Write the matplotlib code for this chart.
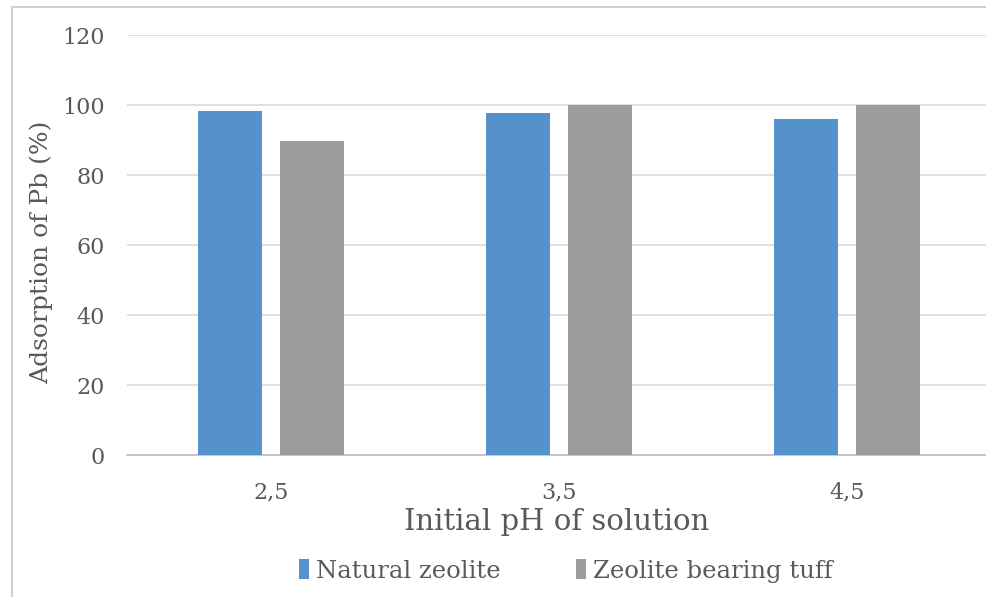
import matplotlib
matplotlib.use('Agg')
import numpy as np
import matplotlib.pyplot as plt
from matplotlib.lines import Line2D

categories = ['2,5', '3,5', '4,5']
natural = [98.3, 97.7, 96.0]
tuff = [89.7, 100.0, 100.0]
series_names = ['Natural zeolite', 'Zeolite bearing tuff']
yticks = [0, 20, 40, 60, 80, 100, 120]

plt.rcParams['font.family'] = ['DejaVu Serif']
txt = '#595959'

fig = plt.figure(figsize=(9.86, 5.97), dpi=100)
ax = fig.add_axes([127/986, 1-455/597, 1-127/986, (455-35)/597])

x = np.arange(len(categories))
w = 0.222
off = 0.142
b1 = ax.bar(x-off, natural, w, color='#5592CB', zorder=3, label=series_names[0])
b2 = ax.bar(x+off, tuff, w, color='#9C9C9C', zorder=3, label=series_names[1])

ax.set_xlim(-0.5, 2.483)
ax.set_ylim(0, 120)
ax.set_yticks(yticks)
ax.set_xticks(x)
ax.set_xticklabels(categories)
ax.yaxis.grid(True, color='#D9D9D9', linewidth=1.2, zorder=0)
for s in ['top', 'right', 'left']:
    ax.spines[s].set_visible(False)
ax.spines['bottom'].set_color('#BFBFBF')
ax.spines['bottom'].set_linewidth(1.2)
ax.tick_params(axis='both', length=0, labelsize=16, colors=txt)
ax.tick_params(axis='x', pad=19)
ax.tick_params(axis='y', pad=16)

ax.set_xlabel('Initial pH of solution', fontsize=21, color=txt, labelpad=3)
ax.set_ylabel('Adsorption of Pb (%)', fontsize=18, color=txt, labelpad=6)
ax.yaxis.set_label_coords(-0.086, 0.483)

fig.legend(handles=[b1, b2], loc='center', bbox_to_anchor=(566/986, 1-571/597),
           ncol=2, frameon=False, fontsize=17.5, labelcolor=txt,
           handlelength=0.4, handleheight=0.9, handletextpad=0.3, columnspacing=3.1)

# frame on top and left edges of the cropped figure
fig.add_artist(Line2D([12/986, 12/986], [0, 1-7/597], transform=fig.transFigure,
                      color='#D0D0D0', linewidth=1.5))
fig.add_artist(Line2D([12/986, 1], [1-7/597, 1-7/597], transform=fig.transFigure,
                      color='#D0D0D0', linewidth=1.5))

plt.savefig('out.png', dpi=100)
